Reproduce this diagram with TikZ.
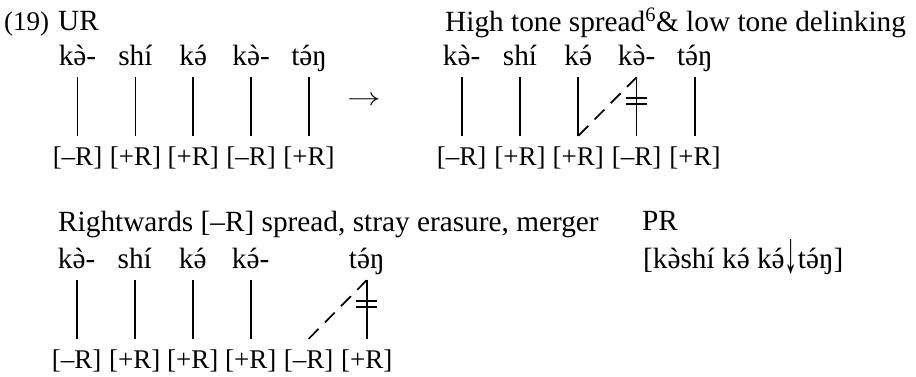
\documentclass[tikz,border=0pt]{standalone}
\usepackage{fontspec}
\setmainfont{Liberation Serif}
\usetikzlibrary{calc}
\newcommand\sacute{\ooalign{ə\cr\hidewidth\char"00B4\hidewidth\cr}}
\newcommand\sgrave{\ooalign{ə\cr\hidewidth\char"02CB\hidewidth\cr}}
\newcommand\downstep{\raisebox{-4pt}{\scalebox{0.9}[2]{↓}}}
\begin{document}
\begin{tikzpicture}[x=1pt,y=-1pt,
  every node/.style={font=\fontsize{29.3}{34}\selectfont, inner sep=0pt},
  syl/.style={text height=18pt, text depth=12pt, anchor=base},
  tone/.style={font=\fontsize{27}{30}\selectfont, text height=29pt, text depth=6pt, anchor=base},
  lbl/.style={anchor=base west},
  assoc/.style={line width=1.7pt},
  link/.style={line width=1.7pt, dash pattern=on 14pt off 9pt},
  bar/.style={line width=1.7pt}]
\useasboundingbox (0,0) rectangle (916,376);

% ---------- (19) UR ----------
\node[lbl, font=\fontsize{27}{30}\selectfont] (num) at (4,30) {(19)};
\node[lbl] (ur) at (58,30) {UR};
\foreach \i/\x/\s/\t in {1/77.5/k\sgrave-/[–R], 2/135.4/shí/[+R], 3/193.3/k\sacute/[+R], 4/251.2/k\sgrave-/[–R], 5/309.1/t\sacute ŋ/[+R]}{
  \node[syl] (a\i) at (\x,65) {\s};
  \node[tone] (at\i) at (\x,165) {\t};
  \draw[assoc] (a\i.south) -- (at\i.north);
}
\node (arr) at (364,101) {\scalebox{1.35}[1]{$\rightarrow$}};

% ---------- High tone spread ----------
\node[lbl] (hts) at (445,31) {High tone spread\textsuperscript{6}\& low tone delinking};
\foreach \i/\x/\s/\t in {1/461.7/k\sgrave-/[–R], 2/520/shí/[+R], 3/578.3/k\sacute/[+R], 4/636.6/k\sgrave-/[–R], 5/694.9/t\sacute ŋ/[+R]}{
  \node[syl] (b\i) at (\x,65) {\s};
  \node[tone] (bt\i) at (\x,165) {\t};
  \draw[assoc] (b\i.south) -- (bt\i.north);
}
\draw[link] (bt3.north) -- (b4.south);
\draw[bar] ($(b4.south)+(-10.5,21)$) -- ++(21,0);
\draw[bar] ($(b4.south)+(-10.5,27)$) -- ++(21,0);

% ---------- Rightwards spread ----------
\node[lbl] (rw) at (58,231) {Rightwards [–R] spread, stray erasure, merger};
\foreach \i/\x/\t in {1/76.7/[–R], 2/134.7/[+R], 3/192.7/[+R], 4/250.7/[+R], 5/308.7/[–R], 6/366.7/[+R]}{
  \node[tone] (ct\i) at (\x,368) {\t};
}
\foreach \i/\x/\s in {1/76.7/k\sgrave-, 2/134.7/shí, 3/192.7/k\sacute, 4/250.7/k\sacute-, 6/366.7/t\sacute ŋ}{
  \node[syl] (c\i) at (\x,268) {\s};
  \draw[assoc] (c\i.south) -- (ct\i.north);
}
\draw[link] (ct5.north) -- (c6.south);
\draw[bar] ($(c6.south)+(-10.5,21)$) -- ++(21,0);
\draw[bar] ($(c6.south)+(-10.5,27)$) -- ++(21,0);

% ---------- PR ----------
\node[lbl] (pr) at (642,230) {PR};
\node[lbl] (prf) at (643,268) {[k\sgrave shí k\sacute{} k\sacute\downstep t\sacute ŋ]};
\end{tikzpicture}
\end{document}
